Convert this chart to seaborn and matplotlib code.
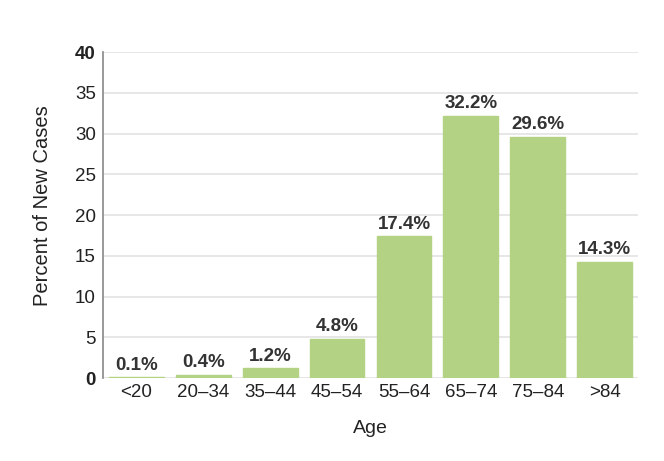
import numpy as np
import pandas as pd
import matplotlib
matplotlib.use("Agg")
import matplotlib.pyplot as plt
import seaborn as sns

ages = ["<20", "20–34", "35–44", "45–54", "55–64", "65–74", "75–84", ">84"]
pct = [0.1, 0.4, 1.2, 4.8, 17.4, 32.2, 29.6, 14.3]
y_ticks = [0, 5, 10, 15, 20, 25, 30, 35, 40]

sns.set_style("white")
plt.rcParams['font.family'] = ['Liberation Sans', 'DejaVu Sans']

df = pd.DataFrame({'age': ages, 'pct': pct})

fig = plt.figure(figsize=(6.64, 4.61), dpi=100)
ax = fig.add_axes([0.155, 0.18, 0.806, 0.707])

sns.barplot(data=df, x='age', y='pct', color='#b3d283', saturation=1,
            width=0.82, ax=ax, zorder=3, edgecolor='#b3d283')

for i, v in enumerate(pct):
    ax.text(i, v + 0.45, f"{v}%", ha='center', va='bottom', fontsize=13.5,
            fontweight='bold', color='#333333', zorder=4)

ax.set_ylim(0, 40)
ax.set_xlim(-0.5, len(ages) - 0.5)
ax.set_yticks(y_ticks)
ax.set_yticklabels([str(t) for t in y_ticks])
for lbl, t in zip(ax.get_yticklabels(), y_ticks):
    if t in (0, 40):
        lbl.set_fontweight('bold')
ax.tick_params(axis='y', labelsize=13.5, colors='#222222', length=0, pad=5)
ax.tick_params(axis='x', labelsize=13.5, colors='#222222', length=0, pad=4)
ax.yaxis.grid(True, color='#e3e3e3', linewidth=1.2, zorder=0)
ax.set_axisbelow(True)

for s in ['top', 'right', 'bottom']:
    ax.spines[s].set_visible(False)
ax.spines['left'].set_color('#888888')
ax.spines['left'].set_linewidth(1.2)

ax.set_xlabel("Age", fontsize=14, color='#222222', labelpad=14)
ax.set_ylabel("Percent of New Cases", fontsize=14.5, color='#222222')
ax.yaxis.set_label_coords(-0.095, 0.53)

fig.savefig("out.png", dpi=100)
